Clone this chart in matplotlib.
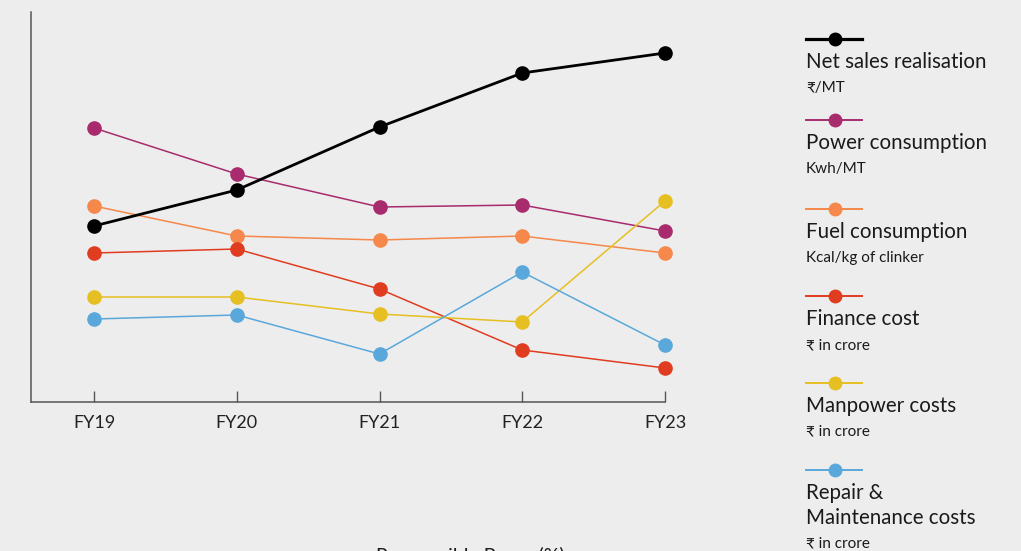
import matplotlib
matplotlib.use("Agg")
import matplotlib.pyplot as plt
from matplotlib.lines import Line2D

# -------------------------------------------------------------------
# Data (relative index values, no y scale shown)
# -------------------------------------------------------------------
YEARS = ["FY19", "FY20", "FY21", "FY22", "FY23"]

net_sales = [176, 212, 275, 329, 349]
power = [274, 228, 195, 197, 171]
fuel = [196, 166, 162, 166, 149]
finance = [149, 153, 113, 52, 34]
manpower = [105, 105, 88, 80, 201]
repair = [83, 87, 48, 130, 57]

LABELS = ["Net sales realisation", "Power consumption", "Fuel consumption",
          "Finance cost", "Manpower costs", "Repair &\nMaintenance costs"]
UNITS = ["₹/MT", "Kwh/MT", "Kcal/kg of clinker",
         "₹ in crore", "₹ in crore", "₹ in crore"]

# -------------------------------------------------------------------
# Styling
# -------------------------------------------------------------------
BG = "#ededed"
COLORS = ["#000000", "#a82b6e", "#f5884a", "#e03c20", "#e6bf22", "#5aa8db"]
WIDTHS = [2.0, 1.1, 1.1, 1.1, 1.1, 1.1]
FONT = ["Lato", "DejaVu Sans"]

series = [net_sales, power, fuel, finance, manpower, repair]

W, H = 1021, 551
fig = plt.figure(figsize=(W / 100, H / 100), dpi=100, facecolor=BG)

# axes placed in pixel terms: left spine x=31, bottom spine y=402, top y=12
ax = fig.add_axes([31 / W, (H - 402) / H, (665 - 31) / W, 390 / H])
ax.set_facecolor(BG)

x = list(range(len(YEARS)))
for vals, c, lw in zip(series, COLORS, WIDTHS):
    ax.plot(x, vals, color=c, lw=lw, marker="o", ms=9.5, mec=c, mfc=c,
            zorder=3 if c == "#000000" else 2, clip_on=False)

ax.set_xlim(-(94 - 31) / 142.75, 4)
ax.set_ylim(0, 390)
ax.set_xticks(x)
ax.set_xticklabels(YEARS, family=FONT, fontsize=13, color="#222222")
ax.set_yticks([])
ax.tick_params(axis="x", direction="in", length=8, width=1, color="#555555",
               pad=9)
for s in ["top", "right"]:
    ax.spines[s].set_visible(False)
for s in ["left", "bottom"]:
    ax.spines[s].set_color("#555555")
    ax.spines[s].set_linewidth(1.1)

# -------------------------------------------------------------------
# Hand-built legend on the right
# -------------------------------------------------------------------
line_y = [39, 120, 209, 296, 383, 470]
for i, (lab, unit, c, lw) in enumerate(zip(LABELS, UNITS, COLORS, WIDTHS)):
    ly = 1 - line_y[i] / H
    fig.add_artist(Line2D([806 / W, 862 / W], [ly, ly], color=c,
                          lw=lw + 0.3, transform=fig.transFigure))
    fig.add_artist(Line2D([835 / W], [ly], color=c, marker="o", ms=9,
                          transform=fig.transFigure))
    fig.text(806 / W, 1 - (line_y[i] + 13) / H, lab, ha="left", va="top",
             family=FONT, fontsize=14.8, color="#1a1a1a", linespacing=1.3)
    uy = line_y[i] + 49 if "\n" not in lab else line_y[i] + 74
    fig.text(806 / W, 1 - uy / H, unit, ha="left", va="center",
             family=FONT, fontsize=11, color="#1a1a1a")

# cut-off caption at the bottom edge
fig.text(470 / W, 1 - 547 / H, "Responsible Proxy (%)", ha="center",
         va="top", family=FONT, fontsize=14, color="#1a1a1a")

fig.savefig("out.png", dpi=100, facecolor=BG)
